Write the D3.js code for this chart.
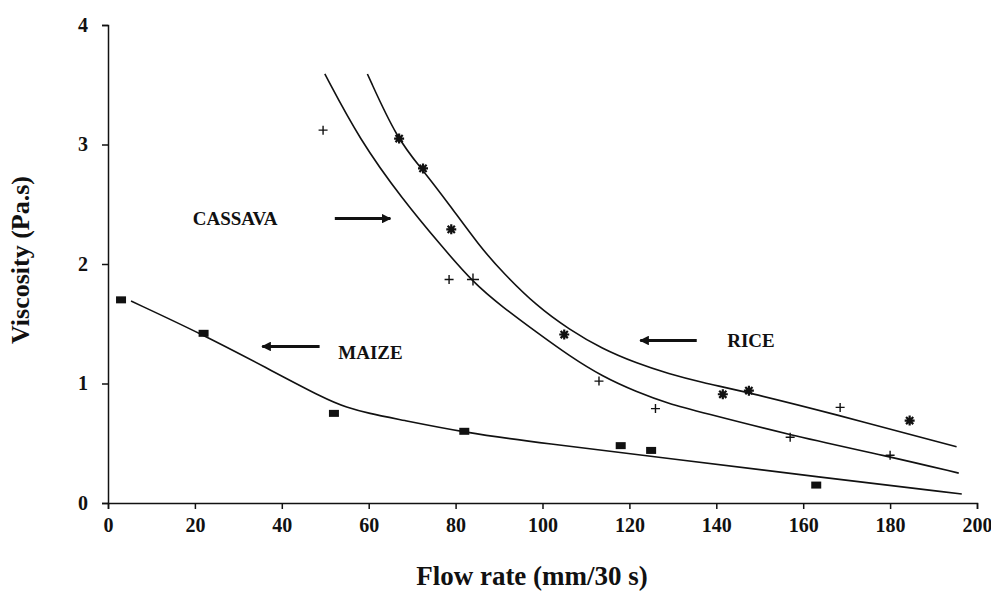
<!DOCTYPE html>
<html>
<head>
<meta charset="utf-8">
<script src="https://cdn.jsdelivr.net/npm/d3@7"></script>
<style>
  body { margin: 0; background: #fff; }
  svg { display: block; font-family: "Liberation Serif", "Times New Roman", serif; font-weight: bold; }
  .axis path, .axis line { stroke: #111; stroke-width: 1.5; }
  .axis text { font-size: 20px; font-weight: bold; font-family: "Liberation Serif", serif; fill: #111; }
  .fit { fill: none; stroke: #111; stroke-width: 1.6; }
</style>
</head>
<body>
<div class="chart"></div>
<script>
// measured points
const maizePts = [[3, 1.70], [22, 1.42], [52, 0.75], [82, 0.60], [118, 0.48], [125, 0.44], [163, 0.15]];
const cassavaPts = [[49.5, 3.12], [78.5, 1.87], [84, 1.87], [113, 1.02], [126, 0.79], [157, 0.55], [168.5, 0.80], [180, 0.40]];
const ricePts = [[67, 3.05], [72.5, 2.80], [79, 2.29], [105, 1.41], [141.5, 0.91], [147.5, 0.94], [184.5, 0.69]];

// fitted curves
const maizeFit = [[5.3, 1.69], [21.8, 1.41], [36.5, 1.13], [50, 0.87], [54.9, 0.80], [60, 0.75], [67, 0.70], [82, 0.59], [100, 0.50], [130, 0.37], [163, 0.22], [196.5, 0.075]];
const cassavaFit = [[49.9, 3.59], [57.9, 3.04], [67.8, 2.54], [77, 2.14], [83.9, 1.85], [90.8, 1.64], [98.6, 1.43], [106.2, 1.23], [113.7, 1.06], [121.6, 0.93], [129.1, 0.83], [136.5, 0.76], [156.7, 0.57], [179.7, 0.39], [195.8, 0.25]];
const riceFit = [[59.7, 3.59], [66.6, 3.04], [72.4, 2.79], [78.5, 2.50], [85.5, 2.15], [90.8, 1.93], [98.6, 1.65], [106.2, 1.45], [113.7, 1.29], [121.6, 1.17], [129.1, 1.08], [136.5, 1.01], [146.8, 0.93], [166.6, 0.75], [195.3, 0.47]];

const xTicks = [0, 20, 40, 60, 80, 100, 120, 140, 160, 180, 200];
const yTicks = [0, 1, 2, 3, 4];

const notes = [
  { text: 'CASSAVA', x: 19.5, y: 2.38, from: 52.2, to: 65, ay: 2.38 },
  { text: 'MAIZE', x: 53, y: 1.26, from: 48.7, to: 35.5, ay: 1.31 },
  { text: 'RICE', x: 142.5, y: 1.36, from: 135.5, to: 122.5, ay: 1.36 }
];

const width = 991, height = 593;
const margin = { top: 25, right: 14, bottom: 90, left: 108 };
const w = width - margin.left - margin.right;
const h = height - margin.top - margin.bottom;

const x = d3.scaleLinear().domain([0, 200]).range([0, w]);
const y = d3.scaleLinear().domain([0, 4]).range([h, 0]);

const svg = d3.select('.chart').append('svg')
  .attr('width', width).attr('height', height);

const defs = svg.append('defs');
defs.append('marker')
  .attr('id', 'head')
  .attr('viewBox', '0 0 10 10')
  .attr('refX', 9).attr('refY', 5)
  .attr('markerWidth', 3.2).attr('markerHeight', 3.2)
  .attr('markerUnits', 'strokeWidth')
  .attr('orient', 'auto')
  .append('path').attr('d', 'M0,0 L10,5 L0,10 z').attr('fill', '#111');

const g = svg.append('g')
  .attr('transform', `translate(${margin.left},${margin.top})`);

g.append('g')
  .attr('class', 'axis')
  .attr('transform', `translate(0,${h})`)
  .call(d3.axisBottom(x).tickValues(xTicks).tickFormat(d3.format('d')).tickSize(6).tickPadding(9).tickSizeOuter(6));

g.append('g')
  .attr('class', 'axis')
  .call(d3.axisLeft(y).tickValues(yTicks).tickFormat(d3.format('d')).tickSize(6).tickPadding(14).tickSizeOuter(6));

const line = d3.line()
  .x(d => x(d[0]))
  .y(d => y(d[1]))
  .curve(d3.curveBasis);

[maizeFit, cassavaFit, riceFit].forEach(s => {
  g.append('path').datum(s).attr('class', 'fit').attr('d', line);
});

// maize squares
g.selectAll('.maize').data(maizePts).enter().append('rect')
  .attr('x', d => x(d[0]) - 5)
  .attr('y', d => y(d[1]) - 3.5)
  .attr('width', 10).attr('height', 7)
  .attr('fill', '#111');

// cassava plus
g.selectAll('.cassava').data(cassavaPts).enter().append('path')
  .attr('transform', d => `translate(${x(d[0])},${y(d[1])})`)
  .attr('d', (d, i) => { const r = i === 2 ? 6 : 4.5; return `M${-r},0H${r}M0,${-r}V${r}`; })
  .attr('stroke', '#111').attr('stroke-width', 1.4);

// rice asterisks
g.selectAll('.rice').data(ricePts).enter().append('path')
  .attr('transform', d => `translate(${x(d[0])},${y(d[1])})`)
  .attr('d', 'M-5,0H5M0,-5V5M-3.6,-3.6L3.6,3.6M-3.6,3.6L3.6,-3.6')
  .attr('stroke', '#111').attr('stroke-width', 2.2);

// annotations
notes.forEach(n => {
  g.append('text')
    .attr('x', x(n.x)).attr('y', y(n.y))
    .attr('dy', '0.35em')
    .attr('font-size', 19)
    .attr('fill', '#111')
    .text(n.text);
  g.append('line')
    .attr('x1', x(n.from)).attr('x2', x(n.to))
    .attr('y1', y(n.ay)).attr('y2', y(n.ay))
    .attr('stroke', '#111').attr('stroke-width', 3)
    .attr('marker-end', 'url(#head)');
});

// axis titles
svg.append('text')
  .attr('x', 532).attr('y', 585)
  .attr('text-anchor', 'middle')
  .attr('font-size', 27)
  .attr('fill', '#111')
  .text('Flow rate (mm/30 s)');

svg.append('text')
  .attr('transform', `translate(29,${margin.top + h / 2 - 4}) rotate(-90)`)
  .attr('text-anchor', 'middle')
  .attr('font-size', 26)
  .attr('fill', '#111')
  .text('Viscosity (Pa.s)');
</script>
</body>
</html>
